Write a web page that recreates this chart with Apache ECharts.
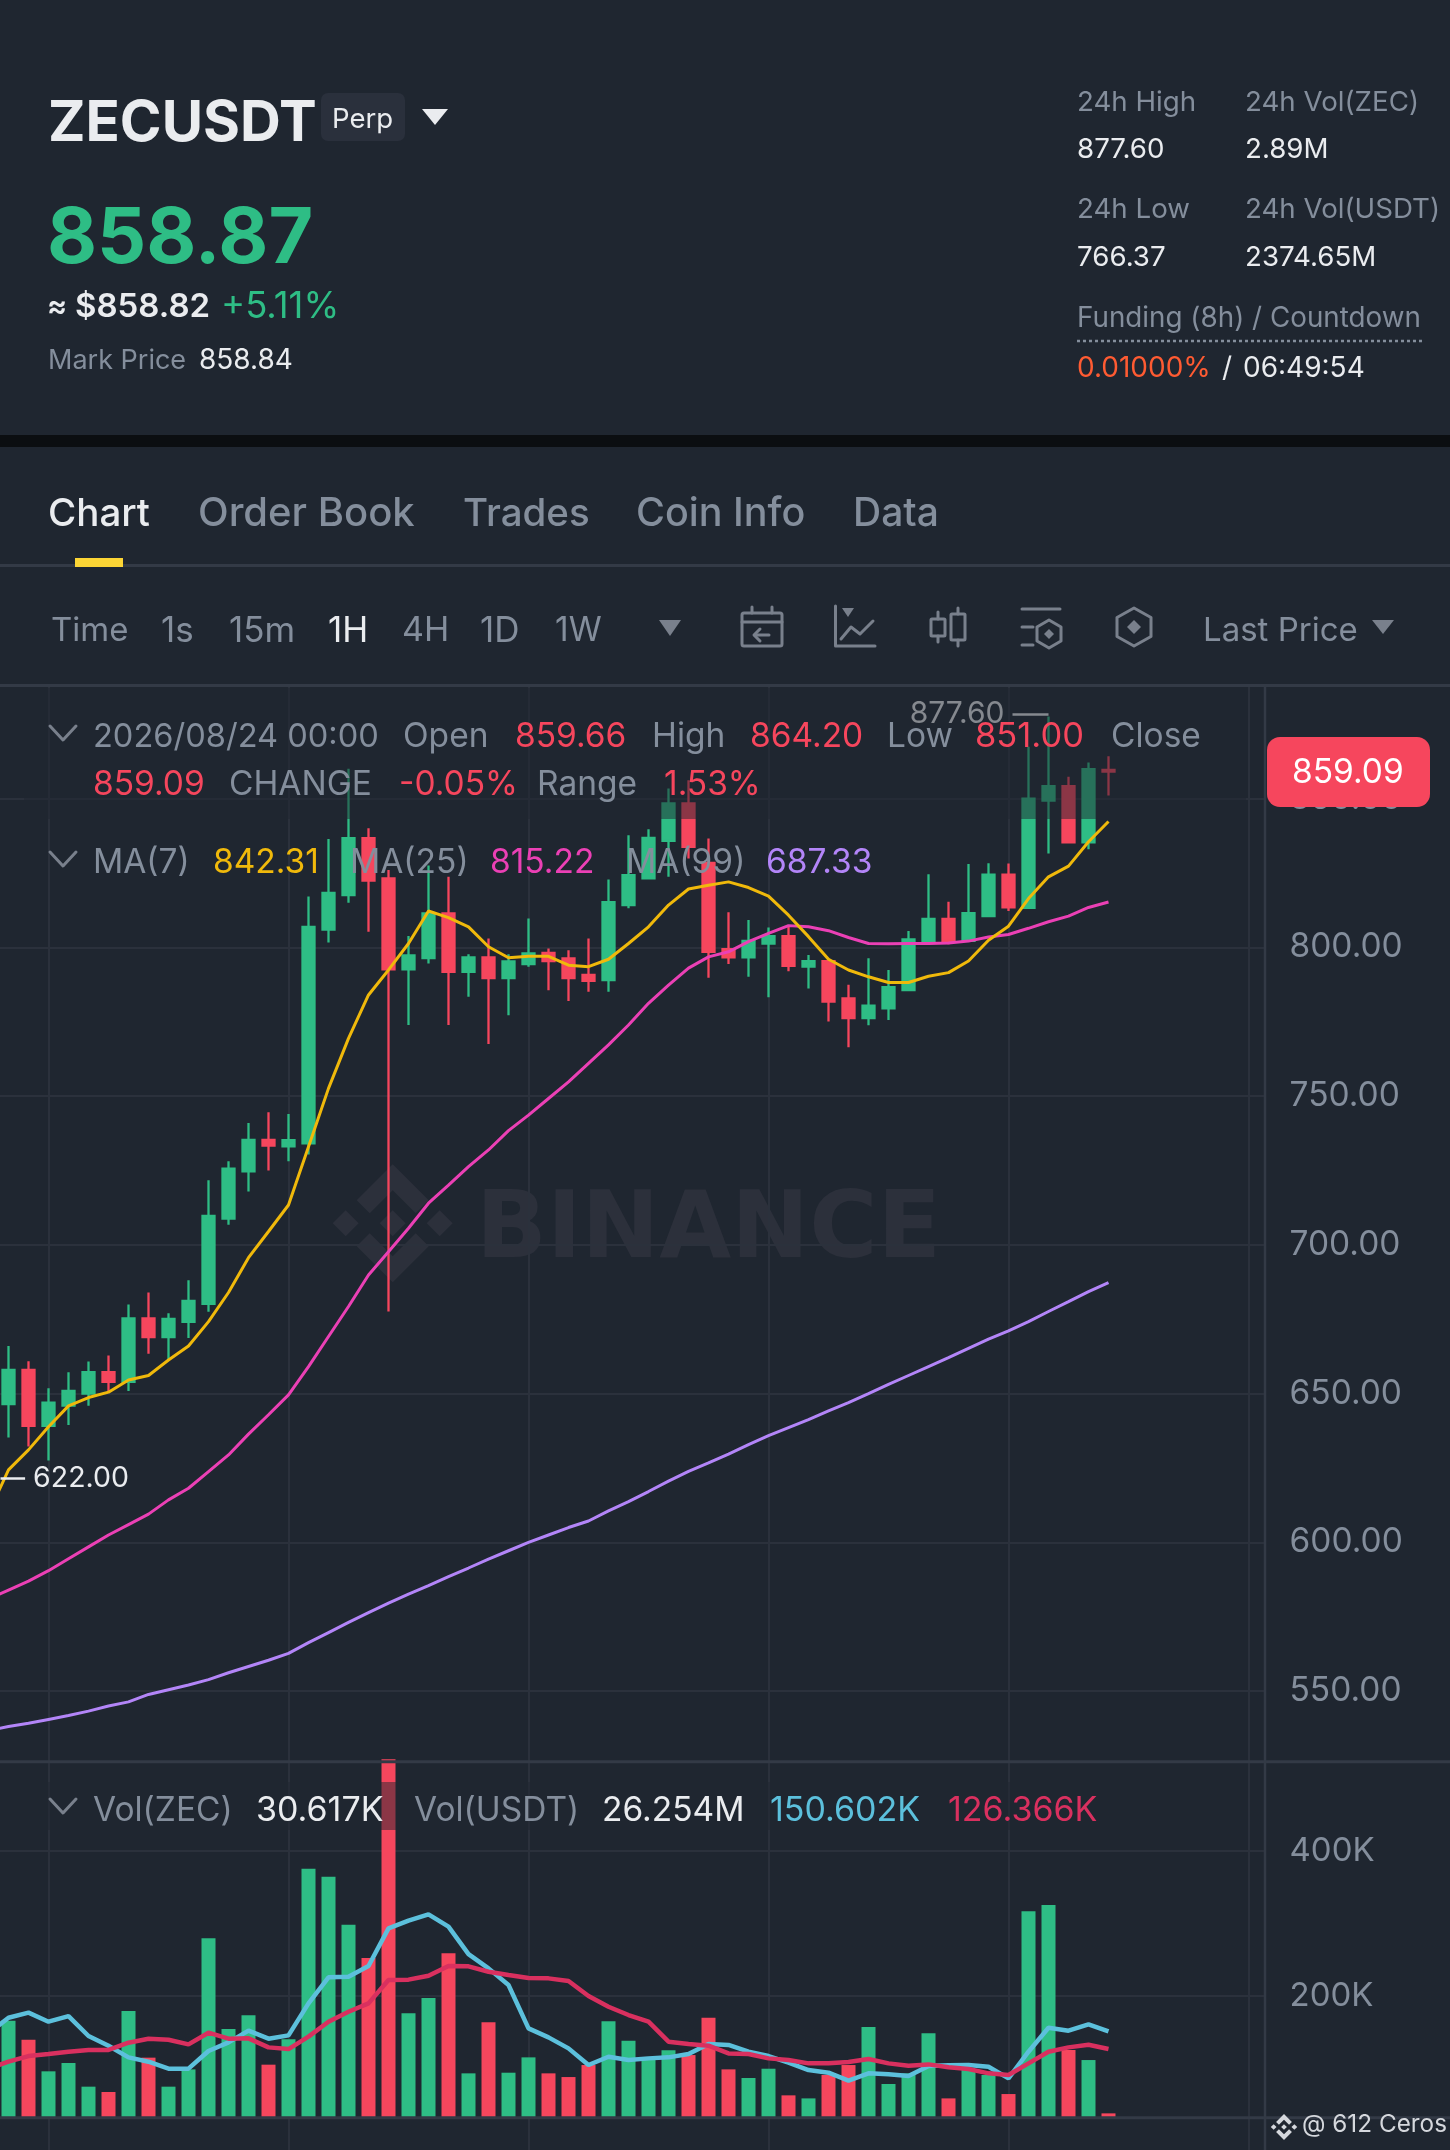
<!DOCTYPE html>
<html><head><meta charset="utf-8">
<style>html,body{margin:0;padding:0;background:#1F2630}#c{width:1450px;height:2150px}</style>
<script src="https://cdn.jsdelivr.net/npm/echarts@6/dist/echarts.min.js"></script>
</head><body><div id="c"></div>
<script>
// candle index 0 sits just left of the visible window
const opens  = [640,646.5,658,639.2,646,650,657.2,654,675.3,669,674.1,680.2,708.8,724.7,735.3,733.1,734.1,806,817.6,836.7,823.2,792.6,796.4,811.4,791.8,796.6,789.7,794.4,798.1,796.3,790.7,789,814.2,823.2,835.8,848.4,828.4,799.4,796.6,801.3,803.8,793.5,795.4,782.8,776.2,779.5,785.6,801.9,809.6,802.2,810.5,824.4,813.3,849.3,854.2,835.3,859.66];
const closes = [648,658,639.2,647,650.9,657.2,654,675.3,669,675.1,681.2,709.7,725.6,735.3,733.4,735.2,806.9,818.3,836.7,822.4,792.6,797.3,811.4,791.8,796.6,789.7,795.3,798,795.4,789.7,788.7,815.2,824.3,836.8,848.4,833.8,798.5,796.6,802.2,803.8,793.8,795.4,781.8,776.2,780.4,786.6,802.7,809.6,802.2,811.5,824.4,813.4,850,854.2,835.3,859.9,859.09];
const lows   = [622,635.3,632.2,627.5,639.5,645.9,650.7,650.9,663.4,661.3,668.7,677.5,706.8,717.9,725,728.1,730.4,801.6,815,805.2,677.6,773.9,794.6,773.9,783.4,767.5,777.2,793.5,785.6,782,785.1,785.1,813.1,823,823.7,829.9,789.8,794.4,790.1,783.2,792,786.2,775.1,766.4,773.8,775.6,785.4,801.9,801,801.9,810.3,812.2,813.3,831.5,834.9,833,851];
const highs  = [655,666,660.9,651.8,657.2,660.8,662.8,680,684,677,688.1,721.7,728.1,741,744.6,744,817.1,836.4,860,840,826,803.8,827.5,823.7,797.7,803,797.7,809.7,799.6,799,803,822.8,837.7,839.7,853.4,856.2,836.6,811.8,809.2,806.7,807.5,797.4,795.4,787.4,796.3,792.4,805.5,824.6,815.3,828,828.3,828.2,867.4,877.6,857.3,862.1,864.2];
const ma7  = [609.8,624.4,631.1,638.9,645.9,648.7,650.5,654.6,656.1,661.3,666,674.2,684,695.7,704.5,713.4,733,752.6,769.4,784,792.4,801.3,812.2,810,806.9,800.2,796.5,797,797,794,793.5,796,801.3,806.9,814.2,819.6,820.9,822,820.1,817.2,810.8,803.6,796,792.4,790.1,788.2,788.2,790.3,791.5,795.4,802.4,807.1,816.4,823.7,827.3,835.5,842.31];
const ma25 = [581,584,587,590.5,594.5,598.5,602.5,606,609.5,614.3,618.2,623.8,629.4,636.4,642.9,649.6,659.1,669.2,679.3,689.9,697.7,705.6,714,720.1,726.3,731.9,738.4,743.6,749.2,754.8,761,767.2,773.9,781.2,787.3,793,796.8,798.5,801.9,804.7,807.3,806.9,805.6,803.3,801.3,801.2,801.3,801.3,801.5,802.1,803.5,804.3,806.4,808.6,810.5,813.4,815.22];
const ma99 = [536.8,538.1,539.2,540.5,541.8,543.3,545,546.4,548.9,550.5,552.1,553.9,556.2,558.3,560.4,562.7,566.3,569.7,573.1,576.4,579.6,582.6,585.5,588.5,591.4,594.4,597.2,600,602.5,605,607.2,610.6,613.7,617.1,620.6,623.9,626.7,629.7,632.9,635.9,638.6,641.3,644.2,647,650,653.1,656.1,659.1,662.1,665.2,668.3,671.1,674.2,677.6,680.9,684.3,687.33];
const volumes = [110,165.5,139.2,95.5,107,74.3,66.9,178.9,114.4,74.3,98.2,279.3,154,172.9,104.7,139.7,375.6,364.5,298.2,252.1,526.7,175.6,196.8,258.6,92.7,163.2,93.6,114.8,92.7,87.6,104.2,164.6,137.8,113.4,124.5,118,169.6,98.2,86.3,99.1,62.3,58.1,90.4,104.2,156.7,78,92.7,148,58.1,97.3,90.4,64.1,316.6,325.4,125,111.1,37.4];
const volMa5 = [148,169.6,176.6,164.1,171.9,144.3,130.9,114.8,108.8,99.2,99.2,123.6,135.5,151.7,140.6,145.2,189.4,225.4,226.3,241.1,293.1,303.7,312.5,295.4,257.6,237.8,214.8,154.9,142.4,127.2,104.2,115.7,111.1,113.4,114.8,119.4,133.2,131.9,122.6,116.6,107.4,97.3,93.6,82.6,92.7,91.3,89,102.8,103.8,104.2,101.9,85.8,122.6,155.8,151.7,160.4,150.602];
const volMa10 = [99.6,108.8,116.6,119.4,122.6,125,125,135.1,140.6,139.2,132.8,148.9,140.6,141.1,128.6,126.3,143.4,164.1,177.9,189.4,221.7,222.2,227.7,241.1,240.6,233.2,228.6,224.5,224,220.3,199.6,184.8,173.3,164.1,136.5,133.2,130.9,120.3,119.4,113.4,111.1,106.5,106.5,108.4,112.5,106.5,103.3,105.1,101,98.7,92.7,90.4,106.5,122.6,128.6,132.3,126.366];
const priceTicks = [550,600,650,700,750,800,850];
const volTicks = [200,400];
const dayTicks = [3,15,27,39,51,63];

const UP='#2EBD85',DOWN='#F6465D',BG='#1F2630',GRAY='#848E9C',WHITE='#EAECEF',SEP='#333A46',GRID='#2B313C',ICON='#79808C';
const FONT='Inter';
const idx = opens.map((_,i)=>i);
const candles = idx.map(i=>[i,opens[i],closes[i],lows[i],highs[i]]);
const pair = a => a.map((v,i)=>[i,v]);
const xRange = {min:0.575,max:63.8};

const g=[];
function T(text,x,y,size,color,weight,z,family){
  g.push({type:'text',z:z||20,silent:true,style:{text,x,y,fill:color,font:(weight||400)+' '+size+'px '+(family||FONT),textAlign:'left',textVerticalAlign:'middle'}});
}
function R(x,y,w,h,color,z,r){g.push({type:'rect',z:z||10,silent:true,shape:{x,y,width:w,height:h,r:r||0},style:{fill:color}});}
function L(x1,y1,x2,y2,color,w,z,dash){g.push({type:'line',z:z||10,silent:true,shape:{x1,y1,x2,y2},style:{stroke:color,lineWidth:w,lineDash:dash||null,lineCap:dash?'butt':'round'}});}
function P(points,color,z){g.push({type:'polygon',z:z||10,silent:true,shape:{points},style:{fill:color}});}
function PS(points,color,w,closed,z){g.push({type:closed?'polygon':'polyline',z:z||10,silent:true,shape:{points},style:{stroke:color,lineWidth:w,fill:null,lineJoin:'round',lineCap:'round'}});}
function hex(cx,cy,hw,hh){return [[cx,cy-hh],[cx+hw,cy-hh/2],[cx+hw,cy+hh/2],[cx,cy+hh],[cx-hw,cy+hh/2],[cx-hw,cy-hh/2]];}
function dia(cx,cy,r){return [[cx,cy-r],[cx+r,cy],[cx,cy+r],[cx-r,cy]];}
function logo(cx,cy,s,color,z){
  const m=(pts)=>pts.map(p=>[cx+p[0]*s,cy+p[1]*s]);
  P(m(dia(0,0,13)),color,z);P(m(dia(-47,0,13)),color,z);P(m(dia(47,0,13)),color,z);
  P(m([[0,-59],[36,-23],[23,-10],[0,-33],[-23,-10],[-36,-23]]),color,z);
  P(m([[0,59],[36,23],[23,10],[0,33],[-23,10],[-36,23]]),color,z);
}
// header
R(0,435,1450,12,'#0B0E11',10);
T('ZECUSDT',48,124,56.5,WHITE,700);
R(321,93,84,48,'#2A303C',10,7);
T('Perp',332,120,27.5,WHITE,400);
P([[422,109],[448,109],[435,125]],WHITE);
T('858.87',47,240,77,UP,700);
T('≈',47,307,30,WHITE,600);
T('$858.82',75,307,33,WHITE,600);
T('+5.11%',221,307,36.5,UP,400);
T('Mark Price',48,361,27,GRAY,400);
T('858.84',199,361,28,WHITE,400);
T('24h High',1077,103,27.7,GRAY);T('24h Vol(ZEC)',1245,103,27.7,GRAY);
T('877.60',1077,150,27.7,WHITE);T('2.89M',1245,150,27.7,WHITE);
T('24h Low',1077,210,27.7,GRAY);T('24h Vol(USDT)',1245,210,27.7,GRAY);
T('766.37',1077,258,27.7,WHITE);T('2374.65M',1245,258,27.7,WHITE);
T('Funding (8h) / Countdown',1077,319,27.8,GRAY);
L(1077,341,1422,341,GRAY,2.5,10,[3,3]);
T('0.01000%',1077,369,28,'#FF5B32');T('/',1222,369,28,WHITE);T('06:49:54',1243,369,28,WHITE);
// tabs
T('Chart',48,514,38.5,WHITE,500);T('Order Book',198,514,40,GRAY,500);T('Trades',463,514,38.5,GRAY,500);T('Coin Info',636,514,39.5,GRAY,500);T('Data',853,514,39,GRAY,500);
L(0,565.5,1450,565.5,SEP,3);
R(75,558,48,9,'#FCD535',12);
// toolbar
T('Time',51,631,33,GRAY);T('1s',161,631,35,GRAY);T('15m',229,631,35,GRAY);T('1H',328,631,35,WHITE);T('4H',402,631,34,GRAY);T('1D',480,631,35,GRAY);T('1W',555,631,33.5,GRAY);
P([[659,620],[681,620],[670,636]],ICON);
T('Last Price',1203,631,33,GRAY);
P([[1372,620],[1394,620],[1383,634]],ICON);
// toolbar icons
g.push({type:'rect',z:10,silent:true,shape:{x:742,y:613,width:40,height:33,r:2},style:{stroke:ICON,lineWidth:3,fill:null}});
L(742,622,782,622,ICON,3);L(752,607,752,613,ICON,3);L(772,607,772,613,ICON,3);
L(755,635,769,635,ICON,3);PS([[760,629],[754,635],[760,641]],ICON,3);
PS([[835.5,606],[835.5,646],[875,646]],ICON,3);P([[842,608],[854,608],[848,617]],ICON);PS([[841,639],[851,627],[860,634],[873,621]],ICON,3);
g.push({type:'rect',z:10,silent:true,shape:{x:931,y:619,width:14,height:17,r:1},style:{stroke:ICON,lineWidth:3,fill:null}});L(938,612,938,619,ICON,3);L(938,636,938,642,ICON,3);
g.push({type:'rect',z:10,silent:true,shape:{x:951,y:614,width:14,height:26,r:1},style:{stroke:ICON,lineWidth:3,fill:null}});L(958,608,958,614,ICON,3);L(958,640,958,646,ICON,3);
L(1022,609,1060,609,ICON,3);L(1022,627,1033,627,ICON,3);L(1022,645,1033,645,ICON,3);PS(hex(1049,634,12,14),ICON,3,true);P(dia(1049,634,5),ICON);
PS(hex(1134,627,17,19),ICON,3,true);P(dia(1134,627,7),ICON);
// watermark under the marks
logo(392.7,1223.3,1,'#2C303B',-1);
T('BINANCE',476,1233,93,'#2C303B',700,-1,'DejaVu Sans');
// translucent legend backdrops
R(24,688,1222,131,'rgba(31,38,48,0.5)',8);
R(24,1782,1096,48,'rgba(31,38,48,0.5)',8);
// separators and axis rule
L(0,685.5,1450,685.5,SEP,3,9);L(0,1761.7,1450,1761.7,SEP,3,9);L(0,2117.7,1450,2117.7,SEP,3,9);
L(1265,687,1265,2150,SEP,2.5,9);
// legend rows
function chev(y){PS([[50,y],[63,y+14],[76,y]],ICON,3);}
chev(726);
T('2026/08/24 00:00',93,737,32.6,GRAY);T('Open',403,737,33.5,GRAY);T('859.66',515,737,33.5,DOWN);T('High',652,737,33.5,GRAY);T('864.20',750,737,33.5,DOWN);T('Low',887,737,33.5,GRAY);T('851.00',975,737,34.5,DOWN);T('Close',1111,737,33.5,GRAY);
T('859.09',93,785,33.5,DOWN);T('CHANGE',229,785,33.5,GRAY);T('-0.05%',399,785,33.5,DOWN);T('Range',537,785,33.5,GRAY);T('1.53%',664,785,33.5,DOWN);
chev(852);
T('MA(7)',93,863,33.5,GRAY);T('842.31',213,863,33.5,'#F0B90B');T('MA(25)',350,863,33.5,GRAY);T('815.22',490,863,33.5,'#EB40B5');T('MA(99)',626,863,33.5,GRAY);T('687.33',766,863,33.5,'#B385F8');
chev(1799);
T('Vol(ZEC)',93,1811,33.5,GRAY);T('30.617K',256,1811,34,WHITE);T('Vol(USDT)',414,1811,33.5,GRAY);T('26.254M',602,1811,33.5,WHITE);T('150.602K',770,1811,34,'#5CC0DC');T('126.366K',948,1811,34,'#D9305F');
// current price pill
R(1267,737,163,70,DOWN,15,13);
T('859.09',1292,773,33.5,'#FFFFFF',400,16);
// attribution
logo(1284,2127,0.22,'#D5D8DD',20);
T('@ 612 Ceros',1302,2125,24.3,'#D5D8DD',400);

const xa = (gridIndex)=>({type:'value',gridIndex,min:xRange.min,max:xRange.max,show:true,axisLine:{show:false},axisLabel:{show:false},axisTick:{show:false,customValues:dayTicks},splitLine:{show:true,lineStyle:{color:GRID,width:2}}});
const option={
  backgroundColor:BG,animation:false,
  grid:[
    {left:0,top:687,width:1264.5,height:1074.7},
    {left:0,top:1759,width:1264.5,height:358.7},
    {left:0,top:2118,width:1264.5,height:32}
  ],
  xAxis:[xa(0),xa(1),xa(2)],
  yAxis:[
    {type:'value',gridIndex:0,position:'right',min:526.3,max:887.5,axisLine:{show:false},axisTick:{show:false,customValues:priceTicks},splitLine:{show:true,lineStyle:{color:GRID,width:2}},
     axisLabel:{customValues:priceTicks,color:GRAY,fontSize:33.5,fontFamily:FONT,margin:25,formatter:v=>v.toFixed(2)}},
    {type:'value',gridIndex:1,position:'right',min:31.4,max:527.2,axisLine:{show:false},axisTick:{show:false,customValues:volTicks},splitLine:{show:true,lineStyle:{color:GRID,width:2}},
     axisLabel:{customValues:volTicks,color:GRAY,fontSize:33,fontFamily:FONT,margin:25,formatter:v=>v+'K'}},
    {type:'value',gridIndex:2,position:'right',min:0,max:1,show:true,axisLine:{show:false},axisTick:{show:false},axisLabel:{show:false},splitLine:{show:false}}
  ],
  graphic:{elements:g},
  series:[
    {type:'candlestick',name:'Price',xAxisIndex:0,yAxisIndex:0,data:candles,encode:{x:0,y:[1,2,3,4]},barWidth:12,clip:true,z:2,
     itemStyle:{color:UP,color0:DOWN,borderColor:UP,borderColor0:DOWN,borderWidth:2.3},
     markLine:{silent:true,symbol:'none',animation:false,lineStyle:{type:'solid',width:2.5,color:WHITE},
       data:[
         [{coord:[53,878.4],label:{show:true,position:'end',formatter:'877.60',color:WHITE,fontSize:30,fontFamily:FONT,distance:8}},{coord:[51.2,878.4]}],
         [{coord:[0.6,621.4],label:{show:true,position:'end',formatter:'622.00',color:WHITE,fontSize:28.5,fontFamily:FONT,distance:8}},{coord:[1.83,621.4]}]
       ]}},
    {type:'line',name:'MA(99)',xAxisIndex:0,yAxisIndex:0,data:pair(ma99),showSymbol:false,lineStyle:{color:'#B385F8',width:3},z:3},
    {type:'line',name:'MA(25)',xAxisIndex:0,yAxisIndex:0,data:pair(ma25),showSymbol:false,lineStyle:{color:'#EB40B5',width:3},z:3},
    {type:'line',name:'MA(7)',xAxisIndex:0,yAxisIndex:0,data:pair(ma7),showSymbol:false,lineStyle:{color:'#F0B90B',width:3},z:4},
    {type:'bar',name:'Vol',xAxisIndex:1,yAxisIndex:1,barWidth:14,clip:true,z:2,
     data:idx.map(i=>({value:[i,volumes[i]],itemStyle:{color:closes[i]>=opens[i]?UP:DOWN}}))},
    {type:'line',name:'VolMA5',xAxisIndex:1,yAxisIndex:1,data:pair(volMa5),showSymbol:false,lineStyle:{color:'#5CC0DC',width:4.5},z:3},
    {type:'line',name:'VolMA10',xAxisIndex:1,yAxisIndex:1,data:pair(volMa10),showSymbol:false,lineStyle:{color:'#D9305F',width:4.5},z:4}
  ]
};
const chart=echarts.init(document.getElementById('c'),null,{width:1450,height:2150});
chart.setOption(option);
</script></body></html>
